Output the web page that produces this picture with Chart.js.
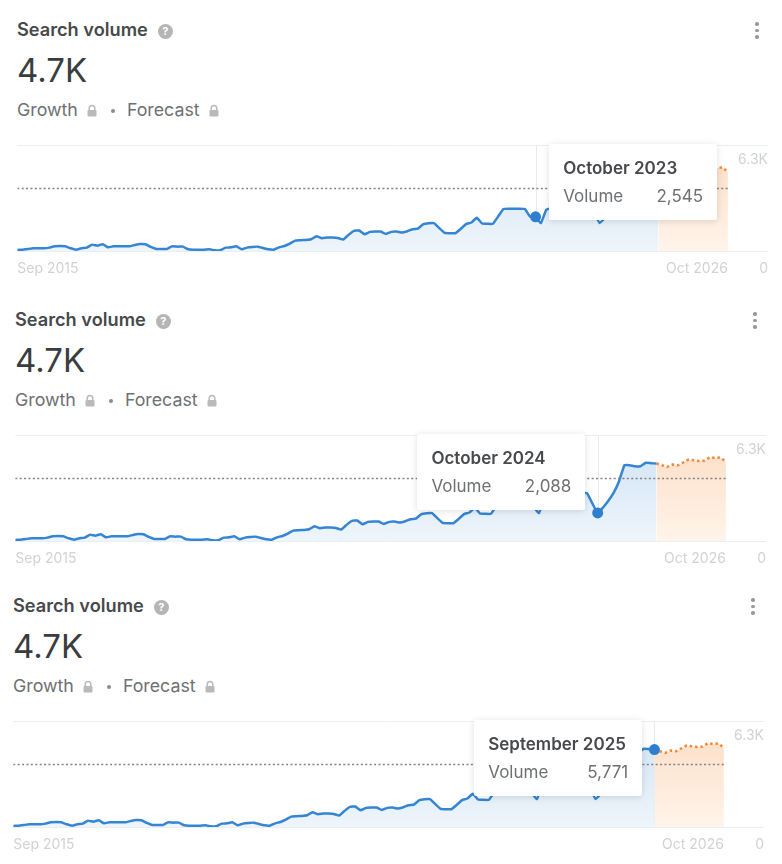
<!DOCTYPE html>
<html>
<head>
<meta charset="utf-8">
<script src="https://cdn.jsdelivr.net/npm/chart.js@4"></script>
<style>
    html, body { margin: 0; padding: 0; background: #fff; }
    body { width: 782px; height: 864px; position: relative; overflow: hidden; font-family: Inter, sans-serif; filter: blur(0.6px); }
    .panel { position: absolute; width: 760px; height: 286px; }
    .panel canvas { position: absolute; left: 0; top: 140px; }
    .title { position: absolute; left: 1px; top: 18px; font-size: 18.2px; line-height: 22px; font-weight: 600; color: #47494c; white-space: nowrap; }
    .help { display: inline-block; width: 15px; height: 15px; border-radius: 50%; background: #b4b5b6; color: #fff; font-size: 11px; line-height: 15px; font-weight: 700; text-align: center; margin-left: 10px; vertical-align: 1px; }
    .big { position: absolute; left: 1px; top: 50px; font-size: 33px; line-height: 40px; color: #3a3d40; }
    .sub { position: absolute; left: 1px; top: 99px; font-size: 17.8px; line-height: 21px; color: #6e7073; white-space: nowrap; }
    .sub svg { margin: 0 0 -1px 8px; }
    .sub .sep { display: inline-block; width: 4px; height: 4px; border-radius: 50%; background: #8a8c8f; margin: 0 12px 3px 13px; }
    .kebab { position: absolute; left: 739px; top: 22px; width: 4px; }
    .kebab i { display: block; width: 3.5px; height: 3.5px; border-radius: 50%; background: #97999c; margin-bottom: 3px; }
    .tip { position: absolute; width: 168px; height: 76px; background: #fff; box-shadow: 0 1px 7px rgba(0,0,0,.13); border-radius: 2px; }
    .tip b { position: absolute; left: 14px; top: 14px; font-size: 17px; line-height: 20px; font-weight: 600; color: #47494c; white-space: nowrap; }
    .tip span { position: absolute; top: 42px; font-size: 17px; line-height: 20px; color: #6e7073; }
</style>
</head>
<body>
<script>
// Sep 2015 .. Sep 2025, monthly (Oct 2023, Oct 2024, Sep 2025 from the tooltips)
var historyValues = [
    75, 100, 150, 200, 200, 200, 250, 350, 375, 350, 200, 100,
    200, 250, 475, 400, 500, 275, 350, 350, 350, 350, 450, 525,
    500, 300, 150, 150, 150, 350, 325, 325, 125, 100, 100, 100,
    125, 50, 50, 250, 275, 350, 125, 250, 300, 325, 225, 125,
    100, 275, 375, 550, 775, 800, 825, 875, 1100, 950, 1000, 1000,
    975, 850, 1200, 1500, 1525, 1250, 1425, 1450, 1450, 1275, 1425, 1450,
    1375, 1475, 1625, 1675, 2000, 2075, 2075, 1700, 1350, 1325, 1325, 1650,
    2000, 2125, 2475, 2050, 2025, 2025, 2575, 3125, 3150, 3150, 3150, 3125,
    2550, 2545, 2075, 3075, 3200, 3350, 3500, 3650, 3600, 3500, 3550, 3570,
    2800, 2088, 2500, 3000, 3600, 4450, 5650, 5650, 5570, 5570, 5830, 5800,
    5771
];
// Sep 2025 .. Oct 2026
var forecastValues = [5771, 5650, 5520, 5700, 5640, 5850, 6070, 6020, 5960, 5990, 6250, 6180, 6230, 5900];
var averageValue = 4650;
var xTickLabels = ['Sep 2015', 'Oct 2026'];
var yTickLabels = ['0', '6.3K'];
var panelMonths = [97, 109, 120];
var panelLefts = [16, 14, 12];
var panelTops = [0, 290, 576];

var monthNames = ['January', 'February', 'March', 'April', 'May', 'June', 'July', 'August', 'September', 'October', 'November', 'December'];
var monthLabel = function (i) {
    var m = 8 + i;
    return monthNames[m % 12] + ' ' + (2015 + Math.floor(m / 12));
};

var lock = '<svg width="12" height="13" viewBox="0 0 12 13"><path d="M3.2 6V4.2a2.8 2.8 0 0 1 5.6 0V6" fill="none" stroke="#b8babc" stroke-width="1.5"/><rect x="1.5" y="6" width="9" height="6.5" rx="1" fill="#b8babc"/></svg>';

var gradient = function (chart, top, bottom) {
    var area = chart.chartArea;
    if (!area) {
        return top;
    }
    var g = chart.ctx.createLinearGradient(0, area.top, 0, area.bottom);
    g.addColorStop(0, top);
    g.addColorStop(1, bottom);
    return g;
};

var edgeLabels = {
    id: 'edgeLabels',
    afterDraw: function (chart) {
        var ctx = chart.ctx, area = chart.chartArea;
        ctx.save();
        ctx.font = '14px Inter';
        ctx.fillStyle = '#d0d2d4';
        ctx.textAlign = 'right';
        ctx.textBaseline = 'middle';
        ctx.fillText(yTickLabels[1], area.right, area.top + 15);
        ctx.fillText(yTickLabels[0], area.right, area.bottom + 18);
        ctx.restore();
    }
};

var hoverLine = {
    id: 'hoverLine',
    beforeDatasetsDraw: function (chart) {
        var active = chart.getActiveElements();
        if (!active.length) {
            return;
        }
        var ctx = chart.ctx, area = chart.chartArea;
        ctx.save();
        ctx.strokeStyle = '#e8eaec';
        ctx.lineWidth = 1;
        ctx.beginPath();
        ctx.moveTo(Math.round(active[0].element.x) + 0.5, area.top);
        ctx.lineTo(Math.round(active[0].element.x) + 0.5, area.bottom);
        ctx.stroke();
        ctx.restore();
    }
};

var showTip = function (panel, context) {
    var t = context.tooltip;
    var tip = panel.querySelector('.tip');
    if (!tip) {
        tip = document.createElement('div');
        tip.className = 'tip';
        panel.appendChild(tip);
    }
    var left = t.caretX + 14;
    if (left + 168 > context.chart.chartArea.right) {
        left = t.caretX - 12 - 168;
    }
    tip.style.left = left + 'px';
    tip.style.top = '144px';
    tip.innerHTML = '<b>' + t.title[0] + '</b><span style="left:14px">Volume</span>' +
        '<span style="right:14px">' + t.dataPoints[0].parsed.y.toLocaleString('en-US') + '</span>';
};

panelMonths.forEach(function (month, p) {
    var panel = document.createElement('div');
    panel.className = 'panel';
    panel.style.left = panelLefts[p] + 'px';
    panel.style.top = panelTops[p] + 'px';
    panel.innerHTML = '<div class="title">Search volume<span class="help">?</span></div>' +
        '<div class="big">4.7K</div>' +
        '<div class="sub">Growth' + lock + '<span class="sep"></span>Forecast' + lock + '</div>' +
        '<div class="kebab"><i></i><i></i><i></i></div>' +
        '<canvas width="760" height="140"></canvas>';
    document.body.appendChild(panel);

    var chart = new Chart(panel.querySelector('canvas'), {
        type: 'line',
        data: {
            datasets: [{
                label: 'Average',
                data: [{ x: 0, y: averageValue }, { x: historyValues.length + forecastValues.length - 2, y: averageValue }],
                borderColor: '#808285',
                borderWidth: 1.5,
                borderDash: [2, 2.4],
                pointRadius: 0,
                pointHoverRadius: 0,
                fill: false
            }, {
                label: 'Volume',
                data: historyValues.map(function (v, i) { return { x: i, y: v }; }),
                borderColor: '#3585d3',
                borderWidth: 2.5,
                tension: 0.1,
                pointRadius: 0,
                pointHoverRadius: 5.5,
                pointHoverBorderWidth: 0,
                pointHoverBackgroundColor: '#2f7fd0',
                fill: 'origin',
                backgroundColor: function (c) { return gradient(c.chart, '#cfe2f5', '#eef5fb'); }
            }, {
                label: 'Forecast',
                data: forecastValues.map(function (v, i) { return { x: historyValues.length - 1 + i, y: v }; }),
                borderColor: '#f0893a',
                borderWidth: 2.5,
                borderDash: [2.5, 2.9],
                pointRadius: 0,
                pointHoverRadius: 0,
                fill: 'origin',
                backgroundColor: function (c) { return gradient(c.chart, '#fddcc2', '#fff4eb'); }
            }]
        },
        options: {
            responsive: false,
            animation: false,
            events: [],
            layout: { padding: { top: 5, right: 8, left: 0, bottom: 0 } },
            plugins: {
                legend: { display: false },
                tooltip: {
                    enabled: false,
                    mode: 'nearest',
                    external: function (context) { showTip(panel, context); },
                    callbacks: {
                        title: function (items) { return monthLabel(items[0].parsed.x); }
                    }
                }
            },
            scales: {
                x: {
                    type: 'linear',
                    min: 0,
                    max: 140.5,
                    grid: { display: false },
                    border: { display: false },
                    afterBuildTicks: function (axis) {
                        axis.ticks = [{ value: 0 }, { value: historyValues.length + forecastValues.length - 2 }];
                    },
                    afterFit: function (axis) {
                        // tick padding would otherwise inset the plot and eat its height
                        axis.paddingLeft = 0;
                        axis.paddingRight = 0;
                        axis.height = 29;
                    },
                    ticks: {
                        align: 'inner',
                        autoSkip: false,
                        maxRotation: 0,
                        padding: 1,
                        color: '#d0d2d4',
                        font: { family: 'Inter', size: 14 },
                        callback: function (v, i) { return xTickLabels[i]; }
                    }
                },
                y: {
                    position: 'right',
                    min: 0,
                    max: 7900,
                    afterBuildTicks: function (axis) {
                        axis.ticks = [{ value: 0 }, { value: 7900 }];
                    },
                    afterFit: function (axis) { axis.width = 0; },
                    grid: { color: '#eceef0', drawTicks: false },
                    border: { display: false },
                    ticks: { display: false }
                }
            }
        },
        plugins: [edgeLabels, hoverLine]
    });

    var active = [{ datasetIndex: 1, index: month }];
    chart.setActiveElements(active);
    chart.tooltip.setActiveElements(active, { x: 0, y: 0 });
    chart.update();
});
</script>
</body>
</html>
